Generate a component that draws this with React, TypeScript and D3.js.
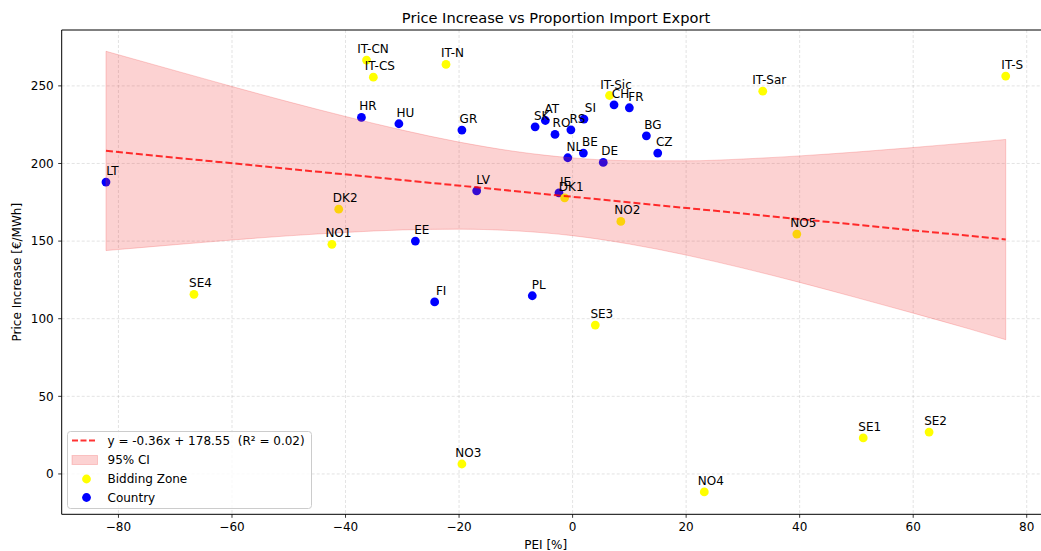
import React from "react";
import * as d3 from "d3";

// Bidding zones
const zoneNames = ["IT-CN", "IT-CS", "IT-N", "IT-Sic", "IT-Sar", "IT-S", "DK1", "DK2", "NO1", "NO2", "NO3", "NO4", "NO5", "SE1", "SE2", "SE3", "SE4"];
const zonePei = [-36.3, -35.1, -22.3, 6.5, 33.5, 76.3, -1.4, -41.2, -42.4, 8.5, -19.5, 23.2, 39.5, 51.2, 62.8, 4.0, -66.7];
const zonePrice = [266.6, 255.6, 263.8, 243.8, 246.6, 256.3, 177.9, 170.6, 147.9, 162.7, 6.4, -11.6, 154.5, 23.2, 27.0, 95.9, 115.7];

// Countries
const countryNames = ["LT", "HR", "HU", "GR", "SK", "AT", "RO", "RS", "SI", "CH", "FR", "BG", "CZ", "NL", "BE", "DE", "IE", "LV", "EE", "FI", "PL"];
const countryPei = [-82.2, -37.2, -30.6, -19.5, -6.6, -4.8, -3.1, -0.3, 2.0, 7.3, 10.0, 13.0, 15.0, -0.85, 1.9, 5.4, -2.4, -16.9, -27.7, -24.3, -7.1];
const countryPrice = [188.0, 229.7, 225.6, 221.5, 223.6, 227.7, 218.7, 221.7, 228.6, 237.8, 235.9, 217.8, 206.7, 203.7, 206.7, 200.7, 181.1, 182.4, 150.0, 110.8, 114.8];

// Linear fit
const fitSlope = -0.36;
const fitIntercept = 178.55;
const fitR2 = 0.02;

// 95% confidence band
const ciPei = [-82.2, -70, -60, -50, -40, -30, -20, -10, 0, 10, 20, 30, 40, 50, 60, 70, 76.3];
const ciUpper = [272.3, 259.8, 249.6, 239.7, 230.3, 221.5, 213.8, 207.7, 203.6, 201.8, 201.7, 202.9, 204.9, 207.4, 210.3, 213.4, 215.5];
const ciLower = [143.9, 147.7, 150.7, 153.4, 155.6, 157.2, 157.7, 156.6, 153.5, 148.1, 141.0, 132.6, 123.4, 113.6, 103.6, 93.3, 86.5];

const xTicks = [-80, -60, -40, -20, 0, 20, 40, 60, 80];
const yTicks = [0, 50, 100, 150, 200, 250];

const W = 1041;
const H = 551;
const left = 61.7;
const right = 1051.7;
const top = 30;
const bottom = 514.3;
const FONT = "DejaVu Sans, sans-serif";

export default function App() {
  const x = d3.scaleLinear().domain([-90, 84.4]).range([left, right]);
  const y = d3.scaleLinear().domain([-26, 286]).range([bottom, top]);
  const fmt = d3.format("d");
  const minus = (v: number) => fmt(v).replace("-", "\u2212");

  const allPei = [...zonePei, ...countryPei];
  const xMin = d3.min(allPei) as number;
  const xMax = d3.max(allPei) as number;

  const band = d3
    .area<number>()
    .x((_, i) => x(ciPei[i]))
    .y0((_, i) => y(ciLower[i]))
    .y1((_, i) => y(ciUpper[i]))
    .curve(d3.curveMonotoneX)(ciPei);

  const fitLine = d3
    .line<number>()
    .x((d) => x(d))
    .y((d) => y(fitSlope * d + fitIntercept))([xMin, xMax]);

  const zones = zoneNames.map((n, i) => ({ n, px: zonePei[i], py: zonePrice[i] }));
  const countries = countryNames.map((n, i) => ({ n, px: countryPei[i], py: countryPrice[i] }));

  const legX = 67.5;
  const legY = 431.5;

  return (
    <svg width={W} height={H} style={{ position: "absolute", left: 0, top: 0, background: "#fff" }} fontFamily={FONT}>
      <defs>
        <clipPath id="plot">
          <rect x={left} y={top} width={right - left} height={bottom - top} />
        </clipPath>
      </defs>
      <rect x={0} y={0} width={W} height={H} fill="#fff" />

      {/* grid */}
      <g stroke="#b0b0b0" strokeOpacity={0.45} strokeWidth={0.8} strokeDasharray="3,2">
        {xTicks.map((t) => (
          <line key={"gx" + t} x1={x(t)} x2={x(t)} y1={top} y2={bottom} />
        ))}
        {yTicks.map((t) => (
          <line key={"gy" + t} x1={left} x2={right} y1={y(t)} y2={y(t)} />
        ))}
      </g>

      <g clipPath="url(#plot)">
        {countries.map((d) => (
          <circle key={"c" + d.n} cx={x(d.px)} cy={y(d.py)} r={4.4} fill="#0000ff" />
        ))}
        {zones.map((d) => (
          <circle key={"z" + d.n} cx={x(d.px)} cy={y(d.py)} r={4.4} fill="#ffff00" />
        ))}
        <path d={band || ""} fill="#f03030" fillOpacity={0.22} stroke="#f03030" strokeOpacity={0.22} strokeWidth={1} />
        <path d={fitLine || ""} fill="none" stroke="#ff0000" strokeOpacity={0.8} strokeWidth={2} strokeDasharray="7,3" />
      </g>

      {/* point labels */}
      <g fontSize={12} fill="#000" textAnchor="middle">
        {[...countries, ...zones].map((d) => (
          <text key={"t" + d.n} x={x(d.px) + 6.5} y={y(d.py) - 7}>
            {d.n}
          </text>
        ))}
      </g>

      {/* spines */}
      <g stroke="#000" strokeWidth={1} fill="none">
        <line x1={left} x2={left} y1={top} y2={bottom} />
        <line x1={left} x2={right} y1={top} y2={top} />
        <line x1={left} x2={right} y1={bottom} y2={bottom} />
        <line x1={right} x2={right} y1={top} y2={bottom} />
      </g>

      {/* x axis */}
      <g fontSize={12} textAnchor="middle" fill="#000">
        {xTicks.map((t) => (
          <g key={"xt" + t}>
            <line x1={x(t)} x2={x(t)} y1={bottom} y2={bottom + 3.5} stroke="#000" strokeWidth={0.8} />
            <text x={x(t)} y={bottom + 17}>{minus(t)}</text>
          </g>
        ))}
        <text x={(left + right) / 2 - 11} y={549}>PEI [%]</text>
      </g>

      {/* y axis */}
      <g fontSize={12} textAnchor="end" fill="#000">
        {yTicks.map((t) => (
          <g key={"yt" + t}>
            <line x1={left - 3.5} x2={left} y1={y(t)} y2={y(t)} stroke="#000" strokeWidth={0.8} />
            <text x={left - 8} y={y(t) + 4.3}>{minus(t)}</text>
          </g>
        ))}
        <text transform={`translate(21,${(top + bottom) / 2}) rotate(-90)`} textAnchor="middle">
          Price Increase [€/MWh]
        </text>
      </g>

      {/* title */}
      <text x={556} y={23} textAnchor="middle" fontSize={14.6} fill="#000">
        Price Increase vs Proportion Import Export
      </text>

      {/* legend */}
      <g fontSize={12} fill="#000">
        <rect x={legX} y={legY} width={244} height={77} rx={3} fill="#fff" fillOpacity={0.8} stroke="#cccccc" strokeWidth={1} />
        <line x1={legX + 4.5} x2={legX + 30} y1={legY + 9} y2={legY + 9} stroke="#ff0000" strokeOpacity={0.8} strokeWidth={2} strokeDasharray="6,2.5" />
        <text x={legX + 40} y={legY + 13.3} style={{ whiteSpace: "pre" }}>
          {`y = ${fitSlope.toFixed(2)}x + ${fitIntercept.toFixed(2)}  (R² = ${fitR2.toFixed(2)})`}
        </text>
        <rect x={legX + 4.5} y={legY + 24} width={25.5} height={9} fill="#f03030" fillOpacity={0.22} stroke="#f03030" strokeOpacity={0.22} />
        <text x={legX + 40} y={legY + 32}>95% CI</text>
        <circle cx={legX + 19} cy={legY + 47.5} r={4.4} fill="#ffff00" />
        <text x={legX + 40} y={legY + 51.5}>Bidding Zone</text>
        <circle cx={legX + 19} cy={legY + 66} r={4.4} fill="#0000ff" />
        <text x={legX + 40} y={legY + 70}>Country</text>
      </g>
    </svg>
  );
}
